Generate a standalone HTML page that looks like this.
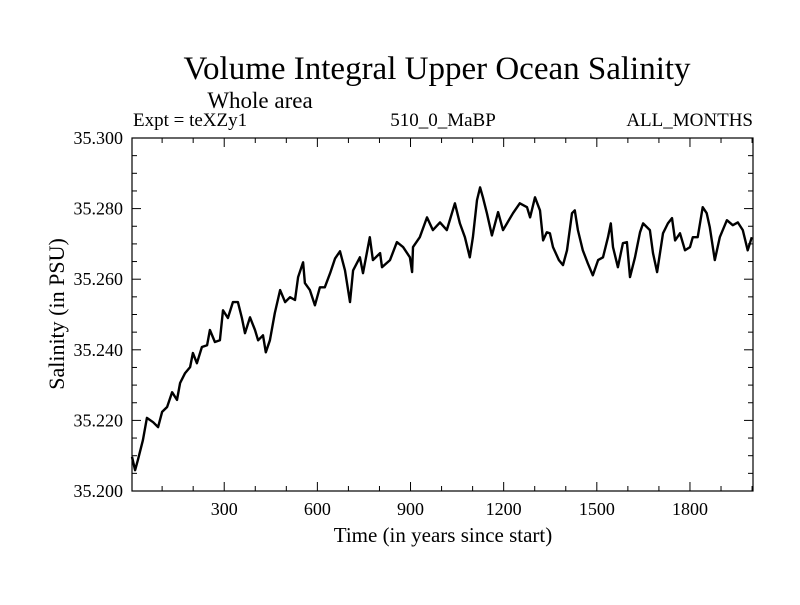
<!DOCTYPE html>
<html><head><meta charset="utf-8"><style>
body{margin:0;background:#fff}
svg text{font-family:"Liberation Serif",serif;fill:#000}
</style></head><body>
<svg width="800" height="600" viewBox="0 0 800 600">
<text x="437" y="79" font-size="33" text-anchor="middle">Volume Integral Upper Ocean Salinity</text>
<text x="260" y="108" font-size="23" text-anchor="middle">Whole area</text>
<text x="133" y="126" font-size="19">Expt = teXZy1</text>
<text x="443" y="126" font-size="19" text-anchor="middle">510_0_MaBP</text>
<text x="753" y="126" font-size="19" text-anchor="end">ALL_MONTHS</text>
<text transform="translate(64,314) rotate(-90)" font-size="22" text-anchor="middle">Salinity (in PSU)</text>
<text x="443" y="542" font-size="21" text-anchor="middle">Time (in years since start)</text>
<g id="axes"></g>
<path id="series" fill="none" stroke="#000" stroke-width="2.4" stroke-linejoin="round"/>
<rect x="132" y="138" width="621" height="353" fill="none" stroke="#000" stroke-width="1.2"/>
</svg>
<script>
const years=[3,13,22,38,51,71,87,100,116,132,148,158,174,190,199,212,228,245,254,270,286,296,312,328,344,357,367,383,399,409,425,434,447,463,480,496,512,528,538,554,560,576,592,608,624,641,657,673,689,705,715,737,747,769,779,802,808,834,856,876,898,905,908,930,953,972,995,1017,1043,1059,1075,1091,1101,1114,1124,1133,1146,1162,1182,1198,1230,1252,1275,1285,1301,1317,1327,1339,1349,1359,1378,1391,1404,1420,1429,1439,1455,1471,1487,1504,1520,1536,1545,1552,1568,1584,1597,1607,1623,1639,1649,1671,1681,1694,1713,1729,1742,1752,1768,1784,1800,1809,1825,1841,1854,1864,1880,1896,1919,1938,1954,1970,1986,1999];
const salinity=[35.2097,35.2059,35.2088,35.2144,35.2207,35.2195,35.2181,35.2224,35.2238,35.2280,35.2258,35.2306,35.2334,35.2351,35.2391,35.2362,35.2408,35.2413,35.2456,35.2422,35.2427,35.2512,35.2490,35.2535,35.2535,35.2490,35.2447,35.2492,35.2456,35.2427,35.2441,35.2393,35.2427,35.2504,35.2569,35.2535,35.2549,35.2541,35.2606,35.2648,35.2589,35.2569,35.2526,35.2577,35.2577,35.2617,35.2659,35.2679,35.2625,35.2535,35.2625,35.2662,35.2617,35.2719,35.2654,35.2674,35.2634,35.2654,35.2705,35.2691,35.2662,35.2620,35.2691,35.2719,35.2775,35.2739,35.2761,35.2739,35.2815,35.2758,35.2719,35.2662,35.2719,35.2824,35.2860,35.2832,35.2787,35.2724,35.2790,35.2739,35.2787,35.2815,35.2804,35.2775,35.2832,35.2795,35.2710,35.2733,35.2730,35.2691,35.2654,35.2640,35.2682,35.2787,35.2795,35.2739,35.2682,35.2645,35.2611,35.2654,35.2662,35.2719,35.2758,35.2691,35.2634,35.2702,35.2705,35.2606,35.2662,35.2733,35.2758,35.2739,35.2674,35.2620,35.2730,35.2758,35.2773,35.2710,35.2730,35.2682,35.2691,35.2719,35.2719,35.2804,35.2787,35.2747,35.2654,35.2719,35.2767,35.2753,35.2761,35.2739,35.2682,35.2719];
const xTicks=[300,600,900,1200,1500,1800];
const yTicks=[35.200,35.220,35.240,35.260,35.280,35.300];
const X0=132,X1=753,Y0=491,Y1=138,xmin=3,xmax=2003,ymin=35.2,ymax=35.3;
const xs=v=>X0+(v-xmin)/(xmax-xmin)*(X1-X0);
const ys=v=>Y0-(v-ymin)/(ymax-ymin)*(Y0-Y1);
const NS='http://www.w3.org/2000/svg';
const ax=document.getElementById('axes');
function line(x1,y1,x2,y2,name){const l=document.createElementNS(NS,'line');
l.setAttribute('x1',x1);l.setAttribute('y1',y1);l.setAttribute('x2',x2);l.setAttribute('y2',y2);
l.setAttribute('stroke','#000');l.setAttribute('stroke-width','1');


ax.appendChild(l);}
function text(x,y,s,anchor,name){const t=document.createElementNS(NS,'text');
t.setAttribute('x',x);t.setAttribute('y',y);t.setAttribute('font-size','18');t.setAttribute('text-anchor',anchor);t.textContent=s;


ax.appendChild(t);}
for(let v=100;v<=2000;v+=100){const x=xs(v);const L=(v%300===0)?9:5;
line(x,Y0,x,Y0-L,'x-tick');line(x,Y1,x,Y1+L,'x-tick-top');}
xTicks.forEach(v=>text(xs(v),515,String(v),'middle','x-tick-label'));
for(let i=0;i<=20;i++){const v=ymin+i*0.005;const y=ys(v);const L=(i%4===0)?9:5;
line(X0,y,X0+L,y,'y-tick');line(X1,y,X1-L,y,'y-tick-right');}
yTicks.forEach(v=>text(123,ys(v)+6,v.toFixed(3),'end','y-tick-label'));
document.getElementById('series').setAttribute('d',years.map((y,i)=>(i?'L':'M')+xs(y).toFixed(1)+','+ys(salinity[i]).toFixed(1)).join(''));
</script>
</body></html>
